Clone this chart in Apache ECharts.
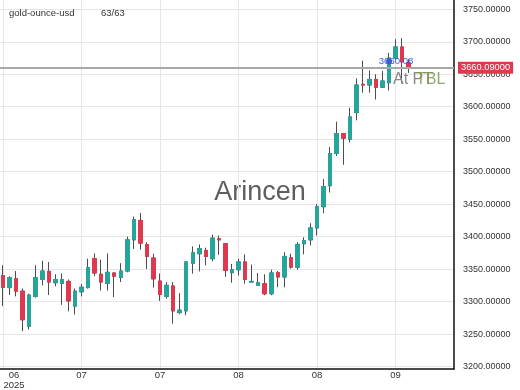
<!DOCTYPE html>
<html><head><meta charset="utf-8">
<script src="https://cdn.jsdelivr.net/npm/echarts@6/dist/echarts.min.js"></script>
<style>html,body{margin:0;padding:0;background:#fff}#c{width:520px;height:390px}</style>
</head><body><div id="c"></div>
<script>
// ---- data ----
const opens  = [3340,3321.5,3335,3316,3262,3308,3334,3346.5,3329,3328,3331,3293,3315,3321.5,3366,3342,3328,3344,3337,3347,3395,3425,3387.5,3367,3331.6,3308,3324,3283,3285.6,3359,3373.6,3378.7,3366,3396.6,3389,3344.5,3349,3361,3330,3325,3327.6,3312,3344.4,3337.8,3367.5,3353,3389,3395,3413.4,3446,3478.4,3528,3558.6,3550,3591,3634.5,3633.4,3642,3630,3637,3675,3692,3667.5];
const closes = [3322,3337,3316,3272,3310,3337,3347,3330,3334,3334,3301,3316,3322,3352,3344,3330,3345,3339,3347,3395,3426,3390,3369.5,3335,3311,3325,3285.6,3286.7,3361,3375,3381.3,3369.5,3397.6,3395,3348,3349,3361,3334,3331,3329,3312,3344,3337.8,3369.5,3353,3388,3394,3413.4,3446,3477,3528,3558.6,3551.6,3584.3,3633.4,3633.4,3642,3630,3639.5,3675,3692,3669,3660.09];
const lows   = [3293,3310,3308,3254.5,3257,3306,3325,3310,3323.5,3295,3285,3280,3308,3320,3339,3317,3317,3307,3330,3345,3381,3380,3350,3321.5,3301,3304.6,3266,3280.5,3279,3343,3346.5,3355.7,3362,3372,3338,3329,3340,3327.6,3329.5,3324,3309.7,3309.7,3322,3322,3350.6,3349,3372.6,3386.4,3401.7,3436,3468,3524,3510.6,3545,3579,3621.5,3621.5,3611,3629,3625,3672,3636,3652];
const highs  = [3356,3339,3347,3320,3312,3356,3363,3361,3342,3343,3334,3320,3327,3366,3374,3364.5,3374,3344.5,3359,3400,3431,3436.5,3391.5,3373.6,3343,3330,3330,3313,3362,3385,3388,3383,3403,3401.7,3390,3358,3366,3372.6,3357,3344,3342,3349,3347,3376,3373.6,3391.5,3399,3420.6,3450,3488.7,3538,3577,3558.6,3598.5,3643.6,3671,3656,3650,3655,3683,3704,3705.5,3673];
const tickLabels = ['06\n2025','07','07','08','08','09'];
const tickStep = 12;
const yMin = 3200, yMax = 3750, yStep = 50;
const lastPrice = 3660.09;
const markerIndex = 59, markerValue = 3669.6, markerText = '3660.08';
const symbolName = 'gold-ounce-usd', countText = '63/63';
const watermark = 'Arincen';

const FONT = '"Liberation Sans", Arial, sans-serif';
const UP = '#26a69a', DOWN = '#e0394f', WICK = '#4d4d4d';

const categories = opens.map((_, i) => String(i));
const candles = opens.map((o, i) => [o, closes[i], lows[i], highs[i]]);
const bodies = opens.map((o, i) => [o, closes[i], Math.min(o, closes[i]), Math.max(o, closes[i])]);

const chart = echarts.init(document.getElementById('c'), null, {renderer: 'canvas'});
chart.setOption({
  animation: false,
  textStyle: {fontFamily: FONT},
  grid: [
    {left: 2.7, right: 111.3, top: 0, bottom: 21},
    {left: 0, right: 66, top: 9.3, bottom: 23.5},
    {left: 0, right: 66, top: 0, bottom: 21}
  ],
  xAxis: [
    {gridIndex: 0, type: 'category', data: categories, boundaryGap: false,
     axisLine: {show: false}, axisTick: {show: false},
     axisLabel: {interval: tickStep - 1, margin: 1, fontSize: 9.5, lineHeight: 10, color: '#333',
       alignMinLabel: 'left',
       formatter: (v, i) => {
         const k = i / tickStep;
         if (i === 0) { const p = tickLabels[0].split('\n'); return '{f|' + p[0] + '}\n{f|' + p[1] + '}'; }
         return tickLabels[k] || '';
       },
       rich: {f: {width: 22, align: 'center', fontSize: 9.5, lineHeight: 10, color: '#333'}}},
     splitLine: {show: true, interval: tickStep - 1, lineStyle: {color: '#e6e6e6', width: 1}}},
    {gridIndex: 1, type: 'value', show: false, min: 0, max: 1},
    {gridIndex: 2, type: 'value', min: 0, max: 1,
     axisLine: {show: true, onZero: false, lineStyle: {color: '#111', width: 1.5}},
     axisTick: {show: false}, axisLabel: {show: false}, splitLine: {show: false}}
  ],
  yAxis: [
    {gridIndex: 0, type: 'value', min: 3196.15, max: 3764.3, show: false},
    {gridIndex: 1, type: 'value', position: 'right', min: yMin, max: yMax, interval: yStep,
     axisLine: {show: false}, axisTick: {show: false},
     axisLabel: {margin: 9, fontSize: 9, color: '#333', formatter: v => v.toFixed(5)},
     splitLine: {show: true, lineStyle: {color: '#e6e6e6', width: 1}}},
    {gridIndex: 2, type: 'value', position: 'right', min: 0, max: 1,
     axisLine: {show: true, onZero: false, lineStyle: {color: '#111', width: 1.5}},
     axisTick: {show: false}, axisLabel: {show: false}, splitLine: {show: false}}
  ],
  series: [
    {type: 'candlestick', xAxisIndex: 0, yAxisIndex: 0, data: candles, barWidth: 4, clip: false,
     itemStyle: {color: WICK, color0: WICK, borderColor: WICK, borderColor0: WICK, borderColorDoji: WICK, borderWidth: 1}},
    {type: 'candlestick', xAxisIndex: 0, yAxisIndex: 0, data: bodies, barWidth: 4, clip: false, z: 3,
     itemStyle: {color: UP, color0: DOWN, borderColor: UP, borderColor0: DOWN, borderWidth: 1},
     markPoint: {silent: true, animation: false,
       data: [{coord: [String(markerIndex), markerValue], symbol: 'circle', symbolSize: 6,
         itemStyle: {color: '#3f5bd8'},
         label: {show: true, position: 'inside', offset: [7, 0], formatter: markerText, color: '#3f5bd8', fontSize: 9.6}}]}},
    {type: 'line', xAxisIndex: 1, yAxisIndex: 1, data: [[0.5, lastPrice]], showSymbol: false,
     lineStyle: {opacity: 0}, z: 1,
     markLine: {silent: true, symbol: ['none', 'none'], animation: false,
       data: [{yAxis: lastPrice}],
       lineStyle: {color: '#a8a8a8', width: 2, type: 'solid'},
       label: {show: true, position: 'end', distance: 4, formatter: lastPrice.toFixed(5),
         color: '#fff', backgroundColor: DOWN, padding: [2, 3, 1, 3], fontSize: 9.3}}}
  ],
  graphic: [
    {type: 'text', left: 9, top: 8, z: 10, style: {text: symbolName, fontSize: 9.5, fill: '#333', fontFamily: FONT}},
    {type: 'text', left: 101, top: 8, z: 10, style: {text: countText, fontSize: 9.5, fill: '#333', fontFamily: FONT}},
    {type: 'text', x: 260, y: 193, z: 0, style: {text: watermark, fontSize: 27, fill: '#5e5e5e', textAlign: 'center', textVerticalAlign: 'middle', fontFamily: FONT}},
    {type: 'text', x: 393, y: 80, z: 10, style: {text: 'At PT', fontSize: 16, fill: '#8a8a8a', textVerticalAlign: 'middle', fontFamily: FONT}},
    {type: 'text', x: 416, y: 80, z: 10, style: {text: 'TBL', fontSize: 16, fill: '#7f9a4a', opacity: 0.85, textVerticalAlign: 'middle', fontFamily: FONT}}
  ]
});
</script>
</body></html>
